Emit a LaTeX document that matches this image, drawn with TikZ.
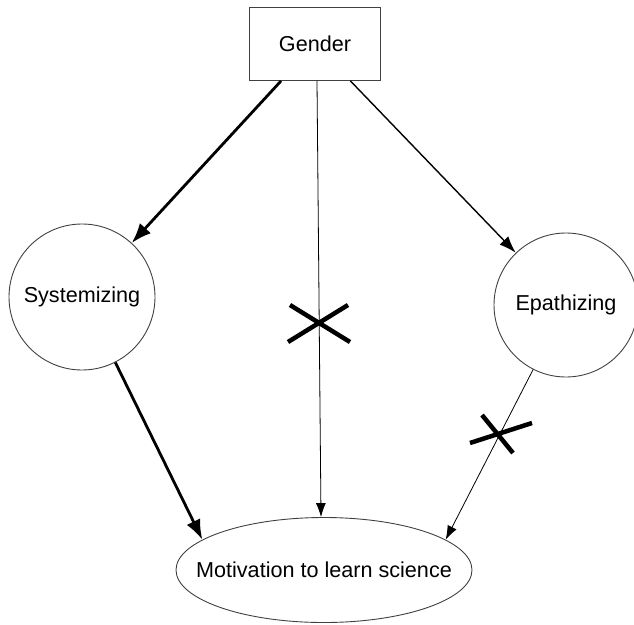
\documentclass[tikz,border=0pt]{standalone}
\usepackage{fontspec}
\setmainfont{Liberation Sans}
\usetikzlibrary{shapes.geometric,arrows.meta}
\begin{document}
\begin{tikzpicture}[x=1pt,y=-1pt,
  every node/.style={font=\fontsize{21.6}{26}\selectfont, inner sep=0pt},
  outl/.style={draw=black!75, line width=0.9pt},
  thickarr/.style={line width=2.8pt, -{Latex[length=20pt,width=15pt]}},
  medarr/.style={line width=1.4pt, -{Latex[length=17pt,width=12pt]}},
  thinarr/.style={line width=0.8pt, draw=black!70, -{Latex[length=14pt,width=10pt]}, black},
  xmark/.style={line width=4.5pt}]
\useasboundingbox (0,0) rectangle (634,624);
\node[outl, rectangle, minimum width=131pt, minimum height=73pt] (gender) at (315,44) {Gender};
\node[outl, circle, minimum size=146pt] (sys) at (82,297) {Systemizing};
\node[outl, circle, minimum size=144pt] (epa) at (566,305) {Epathizing};
\node[outl, ellipse, inner xsep=-24pt, minimum width=296pt, minimum height=105pt] (mot) at (324,570) {Motivation to learn science};
\draw[thickarr] (gender) -- (sys);
\draw[medarr] (gender) -- (epa);
\draw[thinarr] ([xshift=2pt]gender.south) -- ([xshift=-3pt]mot.north);
\draw[thickarr] (sys.-63) -- (mot.166);
\draw[thinarr] (epa.-117) -- (mot.14);
\coordinate (x1a) at (288,342); \coordinate (x1b) at (348,305);
\coordinate (x1c) at (290,305); \coordinate (x1d) at (350,342);
\draw[xmark] (x1a) -- (x1b) (x1c) -- (x1d);
\coordinate (x2a) at (470,443); \coordinate (x2b) at (532,423);
\coordinate (x2c) at (482,415); \coordinate (x2d) at (513,453);
\draw[xmark] (x2a) -- (x2b) (x2c) -- (x2d);
\end{tikzpicture}
\end{document}
